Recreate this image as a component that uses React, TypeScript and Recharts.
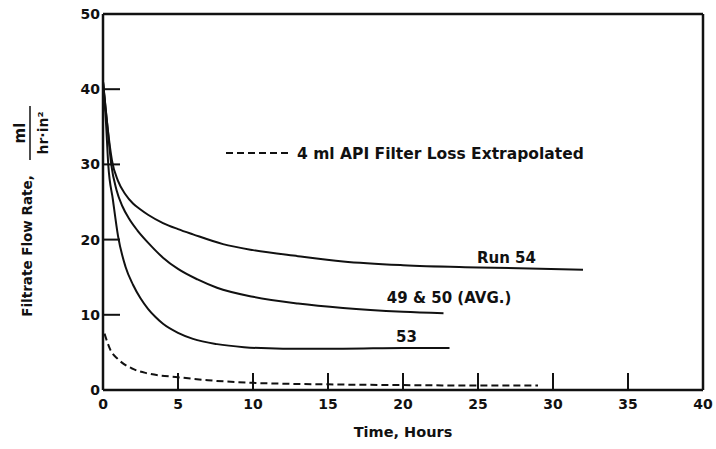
import { LineChart, Line, XAxis, YAxis, ReferenceLine, ReferenceDot } from 'recharts';

// Filtrate flow rate (ml / hr·in²) vs time (hours)
const run54Hours = [0, 0.3, 0.6, 1, 1.5, 2, 2.5, 3, 4, 5, 6, 8, 10, 13, 16, 20, 25, 32];
const run54Rate = [41, 35, 30.5, 27.8, 26, 24.8, 24, 23.3, 22.2, 21.4, 20.7, 19.4, 18.6, 17.8, 17.1, 16.6, 16.3, 16.0];

const run4950Hours = [0, 0.3, 0.55, 0.9, 1.3, 1.7, 2.3, 3, 4, 5, 6.3, 7.6, 10, 13, 16, 20, 22.7];
const run4950Rate = [41, 35, 30, 26.6, 24.4, 22.9, 21.2, 19.6, 17.6, 16.1, 14.7, 13.6, 12.4, 11.5, 10.9, 10.4, 10.2];

const run53Hours = [0, 0.2, 0.35, 0.66, 1, 1.5, 2, 2.5, 3, 3.5, 4, 5, 6, 7.6, 9.4, 12, 16, 20, 23.1];
const run53Rate = [41, 35.5, 30, 25.3, 20.5, 16.4, 14, 12.2, 10.8, 9.7, 8.8, 7.6, 6.8, 6.1, 5.7, 5.5, 5.5, 5.6, 5.6];

const apiHours = [0.1, 0.5, 1, 2, 3, 5, 7, 10, 15, 20, 25, 29];
const apiRate = [7.5, 5.3, 4.1, 2.8, 2.2, 1.7, 1.3, 0.95, 0.75, 0.65, 0.6, 0.6];

const xTicks = [0, 5, 10, 15, 20, 25, 30, 35, 40];
const yTicks = [0, 10, 20, 30, 40, 50];

const toPoints = (hours: number[], rate: number[]) => hours.map((t, i) => ({ t, v: rate[i] }));

const FONT = '"DejaVu Sans", Verdana, sans-serif';
const INK = '#111';

const BottomTick = (props: any) => {
  const { x, y, payload } = props;
  const v = payload.value;
  return (
    <g>
      {v > 0 && v < 40 && <line x1={x} y1={y} x2={x} y2={y - 17} stroke={INK} strokeWidth={2} />}
      <text x={x} y={y + 19} textAnchor="middle" fontFamily={FONT} fontWeight={700} fontSize={14} fill={INK}>
        {v}
      </text>
    </g>
  );
};

const TopTick = (props: any) => {
  const { x, y, payload } = props;
  const v = payload.value;
  if (v <= 0 || v >= 40) return <g />;
  return <line x1={x} y1={y} x2={x} y2={y + 21} stroke={INK} strokeWidth={2} />;
};

const LeftTick = (props: any) => {
  const { x, y, payload } = props;
  const v = payload.value;
  return (
    <g>
      {v > 0 && v < 50 && <line x1={x} y1={y} x2={x + 17} y2={y} stroke={INK} strokeWidth={2} />}
      <text x={x - 3} y={y + 5} textAnchor="end" fontFamily={FONT} fontWeight={700} fontSize={14} fill={INK}>
        {v}
      </text>
    </g>
  );
};

const RightTick = (props: any) => {
  const { x, y, payload } = props;
  const v = payload.value;
  if (v <= 0 || v >= 50) return <g />;
  return <line x1={x} y1={y} x2={x - 20} y2={y} stroke={INK} strokeWidth={2} />;
};

const YTitle = () => (
  <g fontFamily={FONT} fontWeight={700} fill={INK}>
    <text transform="translate(32, 246) rotate(-90)" textAnchor="middle" fontSize={13.5}>
      Filtrate Flow Rate,
    </text>
    <text transform="translate(25, 133) rotate(-90)" textAnchor="middle" fontSize={15}>
      ml
    </text>
    <line x1={30} y1={106} x2={30} y2={160} stroke={INK} strokeWidth={1.5} />
    <text transform="translate(48, 133) rotate(-90)" textAnchor="middle" fontSize={14}>
      hr·in²
    </text>
  </g>
);

const XTitle = () => (
  <text x={403} y={437} textAnchor="middle" fontFamily={FONT} fontWeight={700} fontSize={14.5} fill={INK}>
    Time, Hours
  </text>
);

const labelStyle = { fill: INK, fontSize: 15, fontWeight: 700, fontFamily: FONT };

const App = () => {
  return (
    <>
      <style>{'body { margin: 0; overflow: hidden; }'}</style>
      <LineChart width={716} height={449} margin={{ top: 13, right: 12, bottom: 19, left: 63 }}>
        <XAxis
          type="number"
          dataKey="t"
          domain={[0, 40]}
          ticks={xTicks}
          interval={0}
          height={40}
          tickSize={0}
          tickMargin={0}
          tickLine={false}
          axisLine={{ stroke: INK, strokeWidth: 2.5 }}
          tick={<BottomTick />}
          label={<XTitle />}
        />
        <XAxis
          xAxisId="top"
          orientation="top"
          type="number"
          dataKey="t"
          domain={[0, 40]}
          ticks={xTicks}
          interval={0}
          height={1}
          tickSize={0}
          tickMargin={0}
          tickLine={false}
          axisLine={{ stroke: INK, strokeWidth: 2.5 }}
          tick={<TopTick />}
        />
        <YAxis
          type="number"
          domain={[0, 50]}
          ticks={yTicks}
          interval={0}
          width={40}
          tickSize={0}
          tickMargin={0}
          tickLine={false}
          axisLine={{ stroke: INK, strokeWidth: 2.5 }}
          tick={<LeftTick />}
          label={<YTitle />}
        />
        <YAxis
          yAxisId="right"
          orientation="right"
          type="number"
          domain={[0, 50]}
          ticks={yTicks}
          interval={0}
          width={1}
          tickSize={0}
          tickMargin={0}
          tickLine={false}
          axisLine={{ stroke: INK, strokeWidth: 2.5 }}
          tick={<RightTick />}
        />

        <Line data={toPoints(run54Hours, run54Rate)} dataKey="v" type="monotone" stroke={INK} strokeWidth={2} dot={false} isAnimationActive={false} />
        <Line data={toPoints(run4950Hours, run4950Rate)} dataKey="v" type="monotone" stroke={INK} strokeWidth={2} dot={false} isAnimationActive={false} />
        <Line data={toPoints(run53Hours, run53Rate)} dataKey="v" type="monotone" stroke={INK} strokeWidth={2} dot={false} isAnimationActive={false} />
        <Line data={toPoints(apiHours, apiRate)} dataKey="v" type="monotone" stroke={INK} strokeWidth={2} strokeDasharray="7 4" dot={false} isAnimationActive={false} />

        <ReferenceLine segment={[{ x: 8.2, y: 31.5 }, { x: 12.5, y: 31.5 }]} stroke={INK} strokeWidth={2} strokeDasharray="7 4" />
        <ReferenceDot x={12.6} y={31.5} r={0} fill="none" stroke="none" label={{ value: '4 ml API Filter Loss Extrapolated', position: 'right', ...labelStyle, fontSize: 15.5 }} />
        <ReferenceDot x={26.9} y={16.26} r={0} fill="none" stroke="none" label={{ value: 'Run 54', position: 'top', ...labelStyle }} />
        <ReferenceDot x={23.07} y={10.9} r={0} fill="none" stroke="none" label={{ value: '49 & 50 (AVG.)', position: 'top', ...labelStyle }} />
        <ReferenceDot x={20.23} y={5.76} r={0} fill="none" stroke="none" label={{ value: '53', position: 'top', ...labelStyle }} />
      </LineChart>
    </>
  );
};

export default App;
